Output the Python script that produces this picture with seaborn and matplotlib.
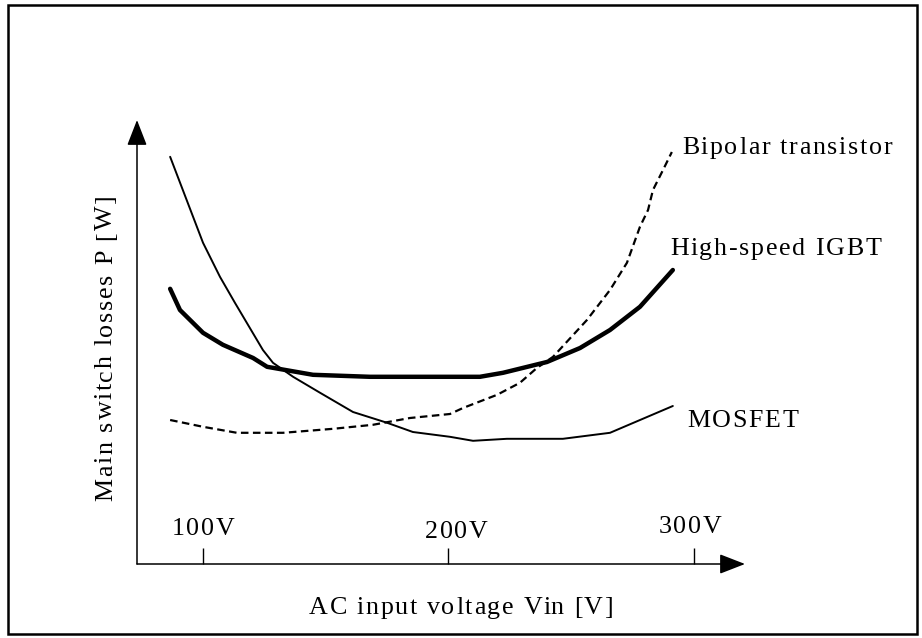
import matplotlib
matplotlib.use('Agg')
import matplotlib.pyplot as plt
import seaborn as sns
import pandas as pd
from matplotlib.font_manager import FontProperties
from matplotlib.patches import Rectangle

# curves: AC input voltage [V] -> switch losses (arbitrary units)
mosfet_v = [86.6, 100, 106.9, 113.0, 124.4, 128.5, 136.7, 147.7, 161.1, 175.0,
            185.5, 200.6, 210.0, 223.8, 246.6, 265.8, 291.4]
mosfet_p = [10.18, 8.03, 7.18, 6.53, 5.35, 5.03, 4.68, 4.28, 3.80, 3.53,
            3.30, 3.18, 3.08, 3.13, 3.13, 3.28, 3.95]

igbt_v = [86.6, 90.6, 100, 108.1, 120.4, 126.1, 144.8, 168.0, 200.6, 212.8,
          222.2, 240.1, 253.6, 265.8, 278.0, 291.4]
igbt_p = [6.88, 6.35, 5.78, 5.48, 5.15, 4.93, 4.73, 4.68, 4.68, 4.68,
          4.78, 5.05, 5.40, 5.85, 6.43, 7.35]

bipolar_v = [86.6, 100, 113.8, 132.6, 153.0, 169.2, 184.3, 200.6, 205.9, 219.8,
             229.1, 236.0, 242.6, 256.4, 265.8, 272.7, 278.0, 281.3, 283.3, 287.4, 291.0]
bipolar_p = [3.60, 3.43, 3.28, 3.28, 3.38, 3.48, 3.65, 3.75, 3.90, 4.23,
             4.53, 4.90, 5.18, 6.10, 6.85, 7.53, 8.43, 8.85, 9.35, 9.85, 10.30]

tick_volts = [100, 200, 300]
tick_labels = ['100V', '200V', '300V']
curve_names = ['Bipolar transistor', 'High-speed IGBT', 'MOSFET']
x_title = 'AC input voltage Vin [V]'
y_title = 'Main switch losses P [W]'

W, H = 922, 638
sns.set_theme(style='white')
plt.rcParams['font.family'] = ['Liberation Serif', 'DejaVu Serif']

fig = plt.figure(figsize=(W / 100, H / 100), dpi=100)
fig.patch.set_facecolor('white')
# axes box = arrow extent in pixels (left 137, right 745, top 120, bottom 564)
ax = fig.add_axes([137 / W, 1 - 564 / H, (745 - 137) / W, (564 - 120) / H])
ax.set_facecolor('white')

df_mos = pd.DataFrame({'v': mosfet_v, 'p': mosfet_p})
df_igbt = pd.DataFrame({'v': igbt_v, 'p': igbt_p})
df_bip = pd.DataFrame({'v': bipolar_v, 'p': bipolar_p})

sns.lineplot(data=df_mos, x='v', y='p', ax=ax, color='black', lw=1.4,
             sort=False, estimator=None)
sns.lineplot(data=df_igbt, x='v', y='p', ax=ax, color='black', lw=3.2,
             sort=False, estimator=None, solid_capstyle='round')
sns.lineplot(data=df_bip, x='v', y='p', ax=ax, color='black', lw=1.6,
             sort=False, estimator=None, dashes=False, linestyle=(0, (3.4, 2.0)))

ax.set_xlim(73.1, 320.8)
ax.set_ylim(0, 11.1)
ax.set_xlabel('')
ax.set_ylabel('')
ax.set_yticks([])
ax.set_xticks(tick_volts)
ax.tick_params(axis='x', direction='in', length=11.5, width=1.0, color='black',
               bottom=True, labelbottom=False)
ax.grid(False)
for sp in ax.spines.values():
    sp.set_visible(False)

arrow = dict(arrowstyle='-|>,head_length=0.9,head_width=0.35', mutation_scale=17.6,
             lw=1.1, color='black', shrinkA=0, shrinkB=0)
ax.annotate('', xy=(1, 0), xytext=(0, 0), xycoords='axes fraction',
            arrowprops=arrow, annotation_clip=False)
ax.annotate('', xy=(0, 1), xytext=(0, 0), xycoords='axes fraction',
            arrowprops=arrow, annotation_clip=False)

# outer frame
fig.patches.append(Rectangle((7.5 / W, 1 - 634 / H), (917 - 7.5) / W, (634 - 5) / H,
                             fill=False, lw=1.8, edgecolor='black',
                             transform=fig.transFigure, figure=fig))

renderer = fig.canvas.get_renderer()


def spaced_text(x, y, s, size=18.7, gap=1.7, ha='left', vertical=False):
    """Letter-spaced text; x, y in image pixels measured from the top-left."""
    prop = FontProperties(family='Liberation Serif', size=size)

    def width(t):
        return renderer.get_text_width_height_descent(t, prop, ismath=False)[0]

    ref = width('I')
    offs = [0.0] + [width(s[:i] + 'I') - ref + gap * i for i in range(1, len(s))]
    total = width(s) + gap * (len(s) - 1)
    start = -total / 2 if ha == 'center' else 0.0
    for off, ch in zip(offs, s):
        if ch == ' ':
            continue
        d = start + off
        if vertical:
            fig.text(x / W, 1 - (y - d) / H, ch, fontproperties=prop, color='black',
                     rotation=90, rotation_mode='anchor', ha='left', va='baseline')
        else:
            fig.text((x + d) / W, 1 - y / H, ch, fontproperties=prop, color='black',
                     ha='left', va='baseline')


# tick labels sit above the tick marks
label_dx = [0, 8, -4]
label_base = [535, 538, 533]
for v, lab, dx, yb in zip(tick_volts, tick_labels, label_dx, label_base):
    px = ax.transData.transform((v, 0))[0]
    spaced_text(px + dx, yb, lab, ha='center')

# curve names
spaced_text(682, 154, curve_names[0])
spaced_text(670, 255, curve_names[1])
spaced_text(687, 427, curve_names[2])

spaced_text(461, 614, x_title, ha='center')
spaced_text(112, 348, y_title, ha='center', vertical=True)

fig.savefig('out.png', dpi=100, facecolor='white')
